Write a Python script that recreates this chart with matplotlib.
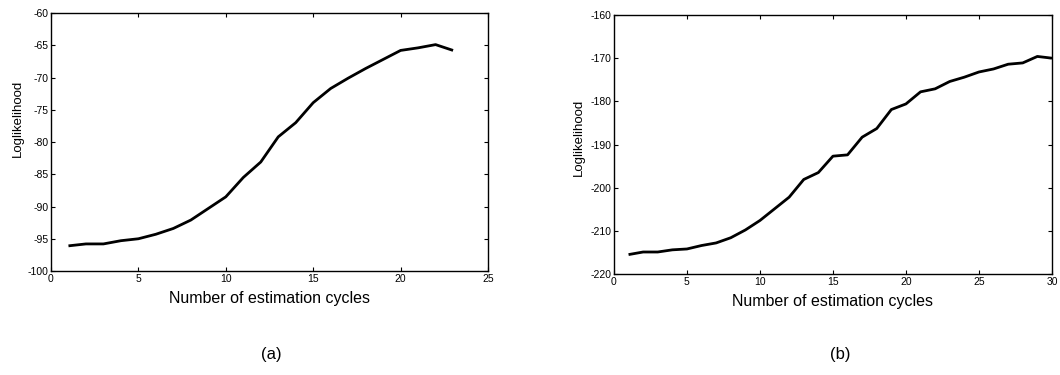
"""Loglikelihood vs. estimation cycles, two panels (a) and (b)."""
import matplotlib
matplotlib.use("Agg")
import matplotlib.pyplot as plt

# panel (a)
cycles_a = list(range(1, 24))
loglik_a = [-96.1, -95.8, -95.8, -95.3, -95.0, -94.3, -93.4, -92.1, -90.3, -88.5,
            -85.5, -83.1, -79.2, -77.0, -73.9, -71.7, -70.1, -68.6, -67.2, -65.8,
            -65.4, -64.9, -65.8]

# panel (b)
cycles_b = list(range(1, 31))
loglik_b = [-215.5, -214.9, -214.9, -214.4, -214.2, -213.4, -212.8, -211.6, -209.8, -207.6,
            -204.9, -202.2, -198.1, -196.5, -192.7, -192.4, -188.3, -186.3, -181.9, -180.6,
            -177.8, -177.1, -175.4, -174.4, -173.2, -172.5, -171.4, -171.1, -169.6, -170.0]

xticks_a = [0, 5, 10, 15, 20, 25]
yticks_a = [-100, -95, -90, -85, -80, -75, -70, -65, -60]
xticks_b = [0, 5, 10, 15, 20, 25, 30]
yticks_b = [-220, -210, -200, -190, -180, -170, -160]

plt.rcParams["font.family"] = ["Liberation Sans", "DejaVu Sans"]
plt.rcParams["axes.unicode_minus"] = False

fig = plt.figure(figsize=(10.6, 3.75), dpi=100)
ax_a = fig.add_axes([0.0481, 0.2773, 0.4123, 0.688])
ax_b = fig.add_axes([0.5792, 0.2693, 0.4132, 0.6907])

# (axes, x, y, xticks, yticks, ylabel position in axes fraction)
panels = [
    (ax_a, cycles_a, loglik_a, xticks_a, yticks_a, (-0.062, 0.593)),
    (ax_b, cycles_b, loglik_b, xticks_b, yticks_b, (-0.066, 0.529)),
]

for ax, x, y, xt, yt, ylab_xy in panels:
    ax.plot(x, y, color="black", lw=2.0, solid_capstyle="butt")
    ax.set_xlim(xt[0], xt[-1])
    ax.set_ylim(yt[0], yt[-1])
    ax.set_xticks(xt)
    ax.set_yticks(yt)
    ax.tick_params(direction="in", length=3, width=0.8, labelsize=7.5,
                   top=True, right=True, pad=2)
    for s in ax.spines.values():
        s.set_linewidth(1.0)
    ax.set_xlabel("Number of estimation cycles", fontsize=11.5, labelpad=5)
    ax.set_ylabel("Loglikelihood", fontsize=9.5)
    ax.yaxis.set_label_coords(*ylab_xy)

fig.text(271 / 1060, 1 - 355 / 375, "(a)", ha="center", va="center", fontsize=12)
fig.text(840 / 1060, 1 - 355 / 375, "(b)", ha="center", va="center", fontsize=12)

fig.savefig("out.png", dpi=100)
